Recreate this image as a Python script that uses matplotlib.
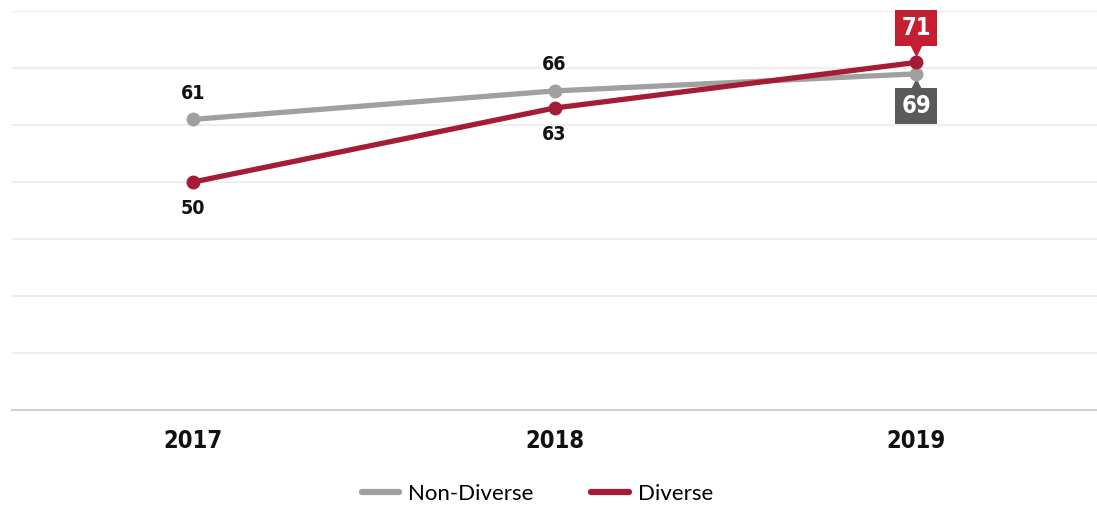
import matplotlib
matplotlib.use("Agg")
import matplotlib.pyplot as plt
from matplotlib import font_manager

years = ["2017", "2018", "2019"]
non_diverse = [61, 66, 69]
diverse = [50, 63, 71]

gray = "#A0A0A0"
red = "#A51C36"
red_box = "#C41E30"
gray_box = "#5A5A5A"

names = {f.name for f in font_manager.fontManager.ttflist}
print(sorted(names))
num_font = dict(family=["DejaVu Sans"], weight="bold", stretch="condensed")

fig = plt.figure(figsize=(10.97, 5.08), dpi=100)
ax = fig.add_axes([0.011, 0.193, 0.989, 0.785])

x = list(range(len(years)))
ax.plot(x, non_diverse, color=gray, lw=3.8, marker="o", ms=9,
        solid_capstyle="round", label="Non-Diverse", zorder=3)
ax.plot(x, diverse, color=red, lw=3.8, marker="o", ms=9,
        solid_capstyle="round", label="Diverse", zorder=4)

ax.set_xlim(-0.5, 2.5)
ax.set_ylim(10, 80)
ax.set_yticks(range(10, 81, 10))
ax.yaxis.grid(True, color="#EEEEEE", lw=1.5)
ax.set_axisbelow(True)
ax.tick_params(axis="y", left=False, labelleft=False)
ax.tick_params(axis="x", length=0, pad=14)
ax.set_xticks(x)
ax.set_xticklabels(years, fontsize=17, color="#111111", **num_font)
for s in ["top", "right", "left"]:
    ax.spines[s].set_visible(False)
ax.spines["bottom"].set_color("#D0D0D0")
ax.spines["bottom"].set_linewidth(1.5)

# plain labels for first two years
for i in range(len(years) - 1):
    ax.annotate(str(non_diverse[i]), (i, non_diverse[i]), xytext=(0, 12),
                textcoords="offset points", ha="center", va="bottom",
                fontsize=14, color="#111111", **num_font)
    ax.annotate(str(diverse[i]), (i, diverse[i]), xytext=(0, -12),
                textcoords="offset points", ha="center", va="top",
                fontsize=14, color="#111111", **num_font)

# boxed labels for last year
i = len(years) - 1
shift = matplotlib.transforms.ScaledTranslation
ax.annotate(str(diverse[i]), (i, diverse[i]), xytext=(0, 25),
            textcoords="offset points", ha="center", va="center",
            fontsize=17, color="white", zorder=6,
            bbox=dict(boxstyle="square,pad=0.25", fc=red_box, ec="none"),
            **num_font)
ax.plot([i], [diverse[i]], marker="v", ms=10, color=red_box, mec="none",
        transform=ax.transData + shift(0, 9 / 72, fig.dpi_scale_trans),
        zorder=5, clip_on=False)
ax.annotate(str(non_diverse[i]), (i, non_diverse[i]), xytext=(0, -23),
            textcoords="offset points", ha="center", va="center",
            fontsize=17, color="white", zorder=6,
            bbox=dict(boxstyle="square,pad=0.25", fc=gray_box, ec="none"),
            **num_font)
ax.plot([i], [non_diverse[i]], marker="^", ms=10, color=gray_box, mec="none",
        transform=ax.transData + shift(0, -8 / 72, fig.dpi_scale_trans),
        zorder=2, clip_on=False)

handles = [plt.Line2D([], [], color=gray, lw=4.5, solid_capstyle="round"),
           plt.Line2D([], [], color=red, lw=4.5, solid_capstyle="round")]
fig.legend(handles, ["Non-Diverse", "Diverse"], loc="center",
           bbox_to_anchor=(0.49, 0.028), ncol=2, frameon=False,
           handlelength=1.7, columnspacing=2.6, handletextpad=0.4,
           prop=dict(family="Lato", size=16))

fig.savefig("out.png", dpi=100)
